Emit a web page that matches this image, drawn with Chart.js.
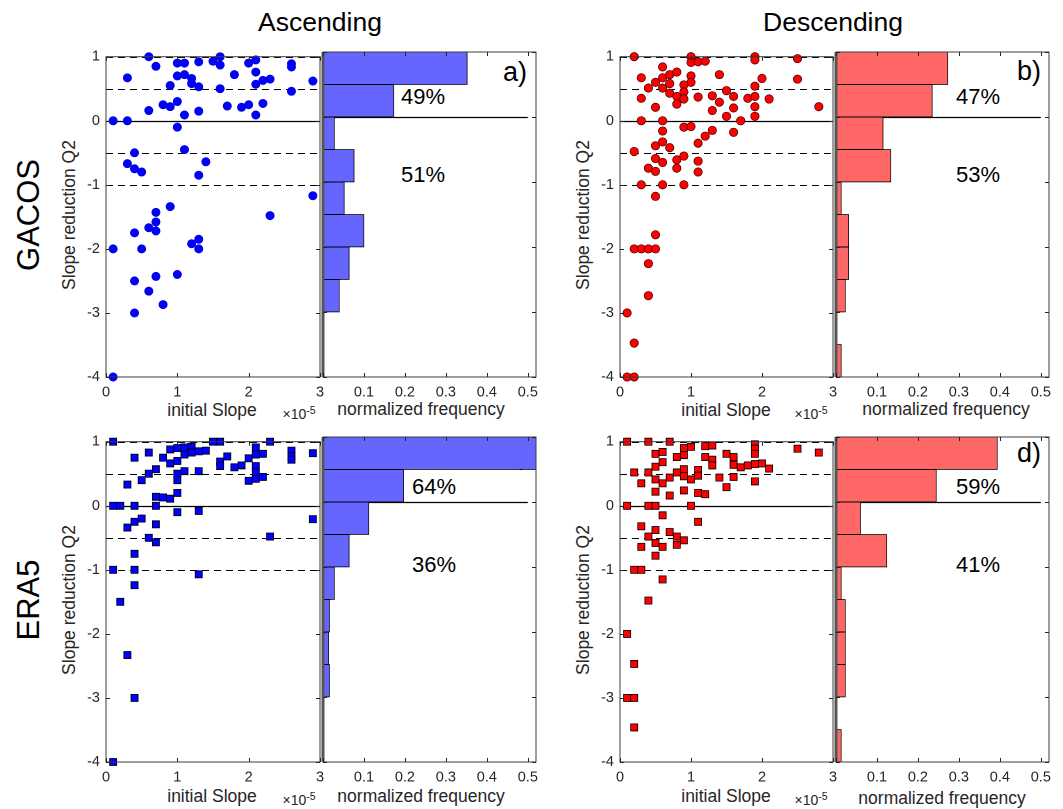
<!DOCTYPE html>
<html><head><meta charset="utf-8">
<script src="https://cdn.jsdelivr.net/npm/chart.js@4.4.1/dist/chart.umd.min.js"></script>
<style>
body{margin:0;width:1063px;height:809px;background:#fff;position:relative;overflow:hidden;font-family:"Liberation Sans",Arial,Helvetica,sans-serif;color:#000}
canvas{position:absolute}
.t{position:absolute;white-space:nowrap;transform:translate(-50%,-50%);line-height:1}
.r{transform:translate(-50%,-50%) rotate(-90deg)}
.ax{font-size:17.5px;color:#262626}
.pc{font-size:22px}
.lt{font-size:27px}
.mul{font-size:14px;color:#262626}
.mul sup{font-size:10.5px}
</style></head><body>
<div class="t" style="left:320px;top:22px;font-size:26.5px">Ascending</div>
<div class="t" style="left:833px;top:22px;font-size:26.5px">Descending</div>
<div class="t r" style="left:28px;top:215px;font-size:31px">GACOS</div>
<div class="t r" style="left:28px;top:600px;font-size:31px">ERA5</div>
<div class="t r ax" style="left:70px;top:215px">Slope reduction Q2</div>
<div class="t r ax" style="left:584px;top:215px">Slope reduction Q2</div>
<div class="t r ax" style="left:70px;top:600px">Slope reduction Q2</div>
<div class="t r ax" style="left:584px;top:600px">Slope reduction Q2</div>
<div class="t ax" style="left:212px;top:411px">initial Slope</div>
<div class="t ax" style="left:726px;top:411px">initial Slope</div>
<div class="t ax" style="left:212px;top:797px">initial Slope</div>
<div class="t ax" style="left:726px;top:797px">initial Slope</div>
<div class="t mul" style="left:299px;top:413px">×10<sup>-5</sup></div>
<div class="t mul" style="left:811px;top:413px">×10<sup>-5</sup></div>
<div class="t mul" style="left:299px;top:799px">×10<sup>-5</sup></div>
<div class="t mul" style="left:811px;top:799px">×10<sup>-5</sup></div>
<div class="t ax" style="left:421px;top:410px">normalized frequency</div>
<div class="t ax" style="left:946px;top:410px">normalized frequency</div>
<div class="t ax" style="left:421px;top:797px">normalized frequency</div>
<div class="t ax" style="left:942px;top:799px">normalized frequency</div>
<div class="t pc" style="left:423px;top:97px">49%</div>
<div class="t pc" style="left:423px;top:175px">51%</div>
<div class="t pc" style="left:978px;top:97px">47%</div>
<div class="t pc" style="left:978px;top:175px">53%</div>
<div class="t pc" style="left:434px;top:487px">64%</div>
<div class="t pc" style="left:434px;top:565px">36%</div>
<div class="t pc" style="left:978px;top:487px">59%</div>
<div class="t pc" style="left:978px;top:565px">41%</div>
<div class="t lt" style="left:515px;top:72px">a)</div>
<div class="t lt" style="left:1029px;top:71px">b)</div>
<div class="t lt" style="left:517px;top:455px">c)</div>
<div class="t lt" style="left:1029px;top:453px">d)</div>
<script>
// ---- data ----
const binCenters = [0.75, 0.25, -0.25, -0.75, -1.25, -1.75, -2.25, -2.75, -3.25, -3.75];
const xTicksScatter = [0, 1, 2, 3];
const yTicks = [1, 0, -1, -2, -3, -4];
const histTicks = [0, 0.1, 0.2, 0.3, 0.4, 0.5];

const ascGacosX = [0.6,0.7,0.3,1.0,1.1,1.3,1.5,1.6,1.6,2.0,2.1,2.6,2.6,1.8,2.1,1.0,1.1,1.2,1.2,0.9,1.3,1.6,2.1,2.2,2.3,2.6,2.9,0.6,0.8,0.9,1.0,1.1,1.3,1.7,1.9,2.0,2.2,2.1,0.1,0.3,1.0,0.4,1.1,0.3,0.4,0.5,1.4,1.3,2.9,0.9,0.7,2.3,0.7,0.6,0.7,0.4,0.1,0.5,1.2,1.3,1.3,0.4,0.7,1.0,0.6,0.8,0.4,0.1];
const ascGacosY = [1.0,0.85,0.67,0.9,0.9,0.92,0.93,1.0,0.87,0.9,0.95,0.89,0.84,0.72,0.76,0.7,0.72,0.66,0.58,0.55,0.53,0.5,0.57,0.63,0.65,0.46,0.62,0.16,0.25,0.22,0.3,0.09,0.15,0.23,0.21,0.25,0.27,0.09,0,0,-0.1,-0.5,-0.45,-0.67,-0.75,-0.8,-0.64,-0.85,-1.17,-1.34,-1.43,-1.48,-1.58,-1.67,-1.72,-1.75,-2.0,-2.0,-1.92,-1.85,-2.0,-2.5,-2.43,-2.4,-2.66,-2.87,-3.0,-4.0];

const descGacosX = [0.2,1.0,1.0,1.1,1.2,1.9,1.9,2.5,0.6,0.3,0.5,0.6,0.7,0.8,1.0,1.0,0.9,0.7,1.4,2.0,2.5,0.4,0.6,1.9,0.7,0.9,0.8,0.3,0.9,1.1,1.3,1.5,1.6,1.8,1.9,2.1,1.4,0.5,0.8,1.3,1.6,1.9,2.8,1.5,1.9,0.3,0.6,1.7,0.9,1.0,0.6,1.3,1.6,1.2,0.6,1.1,0.5,0.7,0.2,0.9,0.5,0.6,0.8,1.1,0.4,0.5,0.8,1.1,0.3,0.6,0.9,0.5,0.5,0.2,0.3,0.4,0.5,0.4,0.4,0.1,0.2,0.1,0.2];
const descGacosY = [1.0,1.0,0.91,0.92,0.93,1.0,0.95,0.97,0.84,0.67,0.6,0.67,0.72,0.76,0.7,0.6,0.56,0.58,0.72,0.66,0.65,0.51,0.51,0.54,0.43,0.45,0.38,0.35,0.34,0.37,0.39,0.47,0.38,0.35,0.38,0.34,0.29,0.21,0.26,0.16,0.2,0.22,0.22,0.07,0.07,0,0,0,-0.1,-0.09,-0.16,-0.15,-0.18,-0.24,-0.33,-0.35,-0.39,-0.42,-0.48,-0.55,-0.59,-0.65,-0.61,-0.63,-0.74,-0.79,-0.74,-0.8,-1.0,-1.0,-1.0,-1.18,-1.78,-2.0,-2.0,-2.0,-2.0,-2.23,-2.73,-3.0,-3.47,-4.0,-4.0];

const ascEraX = [0.1,1.5,1.6,2.3,0.9,1.0,1.1,1.2,1.1,1.2,1.3,1.4,2.1,2.1,2.2,2.6,2.6,2.6,2.9,0.6,0.4,0.8,0.9,1.0,1.6,1.6,1.7,1.8,1.9,2.0,2.1,2.1,2.1,2.0,2.2,0.7,0.6,0.5,1.0,1.0,1.1,1.3,0.3,0.7,0.8,0.9,1.0,0.1,0.2,0.4,0.7,1.0,1.3,0.5,0.4,0.3,0.7,2.9,0.6,0.7,2.3,0.4,0.1,0.4,1.3,0.4,0.2,0.3,0.4,0.1];
const ascEraY = [1.0,1.0,1.0,1.0,0.88,0.9,0.91,0.92,0.8,0.83,0.85,0.86,0.91,0.8,0.81,0.86,0.78,0.72,0.82,0.83,0.75,0.75,0.66,0.7,0.69,0.62,0.77,0.6,0.63,0.74,0.62,0.53,0.42,0.39,0.45,0.57,0.5,0.4,0.5,0.4,0.54,0.54,0.33,0.14,0.13,0.11,0.2,0,0,0,0,-0.1,-0.08,-0.2,-0.25,-0.34,-0.29,-0.21,-0.5,-0.57,-0.48,-0.75,-1.0,-1.0,-1.07,-1.24,-1.5,-2.33,-3.0,-4.0];

const descEraX = [0.1,0.4,0.7,1.9,1.9,1.9,2.5,2.8,0.9,1.0,1.2,1.3,0.5,0.6,0.9,0.8,1.2,1.5,1.6,1.3,1.3,1.6,1.7,1.8,1.9,2.0,2.1,0.6,0.5,0.9,1.1,0.2,0.4,0.8,0.9,1.1,1.4,1.6,0.5,0.7,1.0,0.6,0.3,1.9,1.5,0.5,0.9,1.1,1.2,0.7,0.1,0.4,0.5,1.0,0.6,1.1,0.3,0.5,0.7,0.4,0.8,0.9,0.8,0.5,0.3,0.6,0.5,0.2,0.3,0.6,0.4,0.1,0.2,0.1,0.2,0.2];
const descEraY = [1.0,1.0,1.0,0.96,0.89,0.81,0.89,0.83,0.9,0.92,0.93,0.94,0.81,0.84,0.79,0.76,0.76,0.81,0.76,0.72,0.63,0.64,0.6,0.63,0.65,0.66,0.58,0.68,0.61,0.57,0.56,0.52,0.52,0.52,0.46,0.47,0.44,0.45,0.41,0.44,0.41,0.35,0.35,0.38,0.29,0.22,0.24,0.2,0.18,0.16,0,0,0,0,-0.15,-0.25,-0.32,-0.38,-0.41,-0.48,-0.48,-0.54,-0.61,-0.58,-0.64,-0.64,-0.78,-1.0,-1.0,-1.15,-1.48,-2.0,-2.47,-3.0,-3.0,-3.46];

const histAscGacos  = [0.352,0.173,0.028,0.076,0.052,0.100,0.064,0.040,0,0];
const histDescGacos = [0.273,0.235,0.115,0.134,0.013,0.031,0.031,0.023,0,0.013];
const histAscEra    = [0.53,0.197,0.112,0.064,0.028,0.016,0.014,0.016,0,0];
const histDescEra   = [0.394,0.245,0.060,0.124,0.013,0.023,0.023,0.023,0,0.013];

// ---- drawing helpers ----
const FONT = {family:'"Liberation Sans", Arial, Helvetica, sans-serif', size:14.5};
const TICKC = '#262626';

const framePlugin = {
  id:'frame',
  beforeDatasetsDraw(chart, args, o){
    const {ctx, chartArea:a, scales:{x, y}} = chart;
    ctx.save();
    const xEnd = x.getPixelForValue(o.lineMax);
    ctx.strokeStyle = '#000'; ctx.lineWidth = 1;
    ctx.setLineDash([7,5]);
    (o.dashed||[]).forEach(v => {
      const py = Math.round(y.getPixelForValue(v)) + 0.5;
      ctx.beginPath(); ctx.moveTo(a.left, py); ctx.lineTo(xEnd, py); ctx.stroke();
    });
    ctx.setLineDash([]);
    ctx.lineWidth = 1.3;
    (o.solid||[]).forEach(v => {
      const py = Math.round(y.getPixelForValue(v)) + 0.5;
      ctx.beginPath(); ctx.moveTo(a.left, py); ctx.lineTo(xEnd, py); ctx.stroke();
    });
    ctx.restore();
  },
  afterDraw(chart, args, o){
    const {ctx, chartArea:a, scales:{x, y}} = chart;
    ctx.save();
    ctx.strokeStyle = '#3c3c3c'; ctx.lineWidth = 1;
    ctx.strokeRect(a.left, a.top, a.right - a.left, a.bottom - a.top);
    if (o.thickLeft){
      ctx.strokeStyle = '#555'; ctx.lineWidth = 3;
      ctx.beginPath(); ctx.moveTo(a.left, a.top); ctx.lineTo(a.left, a.bottom); ctx.stroke();
    }
    ctx.strokeStyle = '#262626'; ctx.lineWidth = 1;
    const L = 4;
    o.xt.forEach(v => {
      const px = Math.round(x.getPixelForValue(v)) + 0.5;
      ctx.beginPath(); ctx.moveTo(px, a.bottom); ctx.lineTo(px, a.bottom - L);
      ctx.moveTo(px, a.top); ctx.lineTo(px, a.top + L); ctx.stroke();
    });
    o.yt.forEach(v => {
      const py = Math.round(y.getPixelForValue(v)) + 0.5;
      ctx.beginPath(); ctx.moveTo(a.left, py); ctx.lineTo(a.left + L, py);
      ctx.moveTo(a.right, py); ctx.lineTo(a.right - L, py); ctx.stroke();
    });
    ctx.restore();
  }
};

function mkCanvas(left, top, w, h){
  const c = document.createElement('canvas');
  c.width = w; c.height = h;
  c.style.left = left + 'px'; c.style.top = top + 'px';
  c.style.width = w + 'px'; c.style.height = h + 'px';
  document.body.appendChild(c);
  return c;
}

function scatter(L, T, R, B, xs, ys, st){
  const YW = 30, PT = 10, PR = 12, XH = 30;
  const c = mkCanvas(L - YW, T - PT, YW + (R - L) + PR, PT + (B - T) + XH);
  new Chart(c, {
    type:'scatter',
    data:{datasets:[{
      data: xs.map((x, i) => ({x, y: ys[i]})),
      pointStyle: st.shape, pointRadius: st.r,
      backgroundColor: st.fill, borderColor: st.edge, borderWidth: st.bw,
      clip: false
    }]},
    options:{
      responsive:false, animation:false, events:[], devicePixelRatio: 2,
      layout:{padding:{top:PT, right:PR, left:0, bottom:0}},
      plugins:{legend:{display:false}, tooltip:{enabled:false},
        frame:{dashed:[1,0.5,-0.5,-1], solid:[0], lineMax:3, xt:xTicksScatter, yt:yTicks}},
      scales:{
        x:{type:'linear', min:0, max:3, afterFit(s){ s.height = XH; },
           afterBuildTicks(s){ s.ticks = xTicksScatter.map(v => ({value:v})); },
           ticks:{font:FONT, color:TICKC, padding:7, maxRotation:0, autoSkip:false},
           grid:{display:false, drawTicks:false}, border:{display:false}},
        y:{type:'linear', min:-4, max:1, afterFit(s){ s.width = YW; },
           afterBuildTicks(s){ s.ticks = yTicks.map(v => ({value:v})); },
           ticks:{font:FONT, color:TICKC, padding:6, autoSkip:false},
           grid:{display:false, drawTicks:false}, border:{display:false}}
      }
    },
    plugins:[framePlugin]
  });
}

function hist(L, T, R, B, vals, fill){
  const YW = 4, PT = 10, PR = 14, XH = 30;
  const c = mkCanvas(L - YW, T - PT, YW + (R - L) + PR, PT + (B - T) + XH);
  new Chart(c, {
    type:'bar',
    data:{datasets:[{
      data: vals.map((v, i) => ({x: v, y: binCenters[i]})),
      backgroundColor: fill, borderColor: '#000', borderWidth: 0.8,
      borderSkipped: false, barPercentage: 1, categoryPercentage: 1
    }]},
    options:{
      indexAxis:'y', responsive:false, animation:false, events:[], devicePixelRatio: 2,
      layout:{padding:{top:PT, right:PR, left:0, bottom:0}},
      plugins:{legend:{display:false}, tooltip:{enabled:false},
        frame:{solid:[0], lineMax:0.5, xt:histTicks, yt:yTicks, thickLeft:true}},
      scales:{
        x:{type:'linear', min:0, max:0.52, afterFit(s){ s.height = XH; },
           afterBuildTicks(s){ s.ticks = histTicks.map(v => ({value:v})); },
           ticks:{font:FONT, color:TICKC, padding:7, maxRotation:0, autoSkip:false,
                  callback: v => v === 0 ? '' : (Math.round(v * 10) / 10).toString()},
           grid:{display:false, drawTicks:false}, border:{display:false}},
        y:{type:'linear', min:-4, max:1, offset:false, afterFit(s){ s.width = YW; },
           afterBuildTicks(s){ s.ticks = yTicks.map(v => ({value:v})); },
           ticks:{display:false}, grid:{display:false, drawTicks:false, offset:false}, border:{display:false}}
      }
    },
    plugins:[framePlugin]
  });
}

const BLUE = '#0000ff', RED = '#ff0000';
const HBLUE = 'rgb(102,102,255)', HRED = 'rgb(255,102,102)';

scatter(106, 52, 320, 377, ascGacosX, ascGacosY, {shape:'circle', r:4.2, fill:BLUE, edge:'#0000c8', bw:0.6});
hist(320, 52, 536, 377, histAscGacos, HBLUE);
scatter(620, 52, 833, 377, descGacosX, descGacosY, {shape:'circle', r:4.2, fill:RED, edge:'#3a0000', bw:0.7});
hist(833, 52, 1049, 377, histDescGacos, HRED);
scatter(106, 437, 320, 762, ascEraX, ascEraY, {shape:'rect', r:5, fill:BLUE, edge:'#000', bw:0.8});
hist(320, 437, 536, 762, histAscEra, HBLUE);
scatter(620, 437, 833, 762, descEraX, descEraY, {shape:'rect', r:5, fill:RED, edge:'#000', bw:0.8});
hist(833, 437, 1049, 762, histDescEra, HRED);
</script>
</body></html>
